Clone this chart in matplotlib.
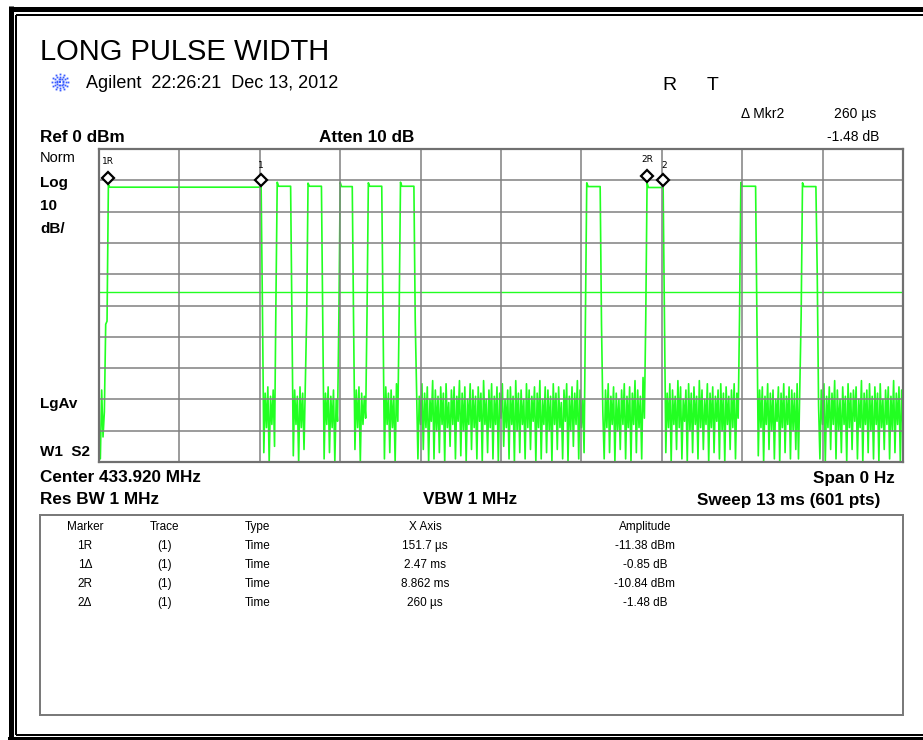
import numpy as np
import matplotlib
matplotlib.use("Agg")
import matplotlib.pyplot as plt
from matplotlib import font_manager
from matplotlib.transforms import offset_copy, blended_transform_factory

# ---------------- data ----------------
sweep_ms = 13.0
n_points = 601
display_line_db = -45.8

# pulses (sample indices of first / last high sample)
pulse_first = [7, 133, 156, 180, 201, 225, 364, 409, 479, 525]
pulse_last = [121, 143, 166, 189, 211, 235, 374, 421, 490, 535]
pulse_peak_db = [-11.38, -10.6, -10.9, -10.7, -10.8, -10.6, -10.8, -10.84, -10.7, -10.8]
pulse_flat_db = [-12.2, -11.9, -11.9, -12.0, -11.9, -11.9, -12.0, -12.3, -11.9, -12.0]
rise_db = [-55, -50, -53, -54, -53, -52, -53, -55, -54, -53]
fall_db = [-52, -55, -55, -56, -54, -55, -56, -54, -56, -40]

# noise samples between pulses (in order)
noise_pre = [-88, -99, -77, -92, -84, -56]
noise_g1 = [-97, -78, -89, -76, -100, -79, -88, -77, -95]
noise_g2 = [-98, -77, -88, -79, -100, -76, -89, -78, -96, -75]
noise_g3 = [-99, -78, -88, -76, -97, -79, -89, -77, -100, -80, -87]
noise_g4 = [-96, -77, -89, -76, -100, -78, -88, -79, -86]
noise_g5 = [-99, -76, -88, -78, -97, -77, -89, -79, -100, -75, -87]
noise_g6 = [-77, -99, -79, -88, -75, -96, -78, -89, -76, -100,
            -80, -87, -74, -99, -77, -90, -79, -97, -76, -88,
            -78, -100, -75, -89, -81, -95, -77, -88, -76, -99,
            -79, -87, -74, -98, -78, -90, -76, -100, -80, -88,
            -75, -96, -77, -89, -79, -99, -76, -87, -78, -100,
            -74, -88, -80, -97, -77, -89, -75, -99, -79, -88,
            -76, -100, -78, -86, -75, -95, -80, -89, -77, -99,
            -76, -88, -79, -100, -74, -90, -78, -97, -77, -88,
            -80, -99, -75, -89, -77, -96, -79, -87, -76, -100,
            -78, -89, -74, -99, -80, -88, -76, -97, -77, -90,
            -79, -100, -75, -88, -78, -96, -76, -89, -81, -99,
            -77, -87, -75, -100, -79, -90, -76, -95, -78, -88,
            -74, -99, -77, -89, -80, -97]
noise_g7 = [-84, -99, -77, -89, -75, -97, -79, -88, -76, -100,
            -78, -90, -80, -96, -77, -88, -75, -99, -79, -89,
            -76, -100, -78, -88, -74, -97, -77, -89, -79, -99,
            -73, -86]
noise_g8 = [-97, -78, -89, -75, -100, -77, -88, -79, -96, -74,
            -89, -76, -99, -80, -87, -77, -100, -75, -90, -78,
            -97, -76, -88, -79, -99, -74, -89, -77, -96, -80,
            -88, -75, -100, -78, -89, -76, -97, -79, -87, -77,
            -99, -75, -90, -78, -100, -76, -88, -79, -96, -77,
            -89, -75, -99, -78, -86]
noise_g9 = [-98, -77, -89, -76, -100, -79, -88, -75, -96, -78,
            -90, -77, -99, -80, -87, -76, -100, -78, -89, -75,
            -97, -79, -88, -76, -99, -77, -90, -78, -96, -75,
            -99, -76]
noise_g10 = [-82, -99, -77, -88, -75, -100, -79, -89, -76, -96,
             -78, -88, -74, -99, -77, -90, -80, -97, -76, -88,
             -79, -100, -75, -89, -78, -96, -77, -87, -76, -99,
             -80, -89, -74, -100, -78, -88, -77, -97, -75, -90,
             -79, -99, -76, -88, -78, -100, -75, -89, -80, -96,
             -77, -88, -76, -99, -79, -90, -74, -97, -78, -88,
             -76, -100, -77, -89]

marker_names = ["1R", "1", "2R", "2"]
marker_time_ms = [0.1517, 0.1517 + 2.47, 8.862, 8.862 + 0.26]

table_header = ["Marker", "Trace", "Type", "X Axis", "Amplitude"]
table_marker = ["1R", "1\u0394", "2R", "2\u0394"]
table_trace = ["(1)", "(1)", "(1)", "(1)"]
table_type = ["Time", "Time", "Time", "Time"]
table_x = ["151.7 \u00b5s", "2.47 ms", "8.862 ms", "260 \u00b5s"]
table_amp = ["-11.38 dBm", "-0.85 dB", "-10.84 dBm", "-1.48 dB"]

# ---------------- build trace ----------------
noise_all = (noise_pre + noise_g1 + noise_g2 + noise_g3 + noise_g4 + noise_g5 +
             noise_g6 + noise_g7 + noise_g8 + noise_g9 + noise_g10)
special = {}
for k, (a, b) in enumerate(zip(pulse_first, pulse_last)):
    special[a - 1] = rise_db[k]
    special[a] = pulse_peak_db[k]
    for i in range(a + 1, b + 1):
        special[i] = pulse_flat_db[k]
    special[b + 1] = fall_db[k]
it = iter(noise_all)
trace = np.array([special[i] if i in special else next(it) for i in range(n_points)], float)
t_ms = np.linspace(0, sweep_ms, n_points)
dt = sweep_ms / (n_points - 1)

# ---------------- fonts ----------------
names = {f.name for f in font_manager.fontManager.ttflist}
SANS = "Liberation Sans" if "Liberation Sans" in names else "DejaVu Sans"
NARROW = "Liberation Sans Narrow" if "Liberation Sans Narrow" in names else SANS

W, H = 923, 740
fig = plt.figure(figsize=(W / 100, H / 100), dpi=100)
fig.patch.set_facecolor("white")
bg = fig.add_axes([0, 0, 1, 1])
bg.set_xlim(0, W)
bg.set_ylim(H, 0)
bg.axis("off")

PX = 0.72  # points per pixel

# outer frame (double line)
bg.plot([10.5, W], [8.5, 8.5], color="black", lw=5 * PX, solid_capstyle="butt")
bg.plot([10.5, 10.5], [6, H], color="black", lw=5 * PX, solid_capstyle="butt")
bg.plot([16, W], [14.5, 14.5], color="black", lw=2 * PX, solid_capstyle="butt")
bg.plot([16, 16], [14.5, 735], color="black", lw=2 * PX, solid_capstyle="butt")
bg.plot([16, W], [735, 735], color="black", lw=2 * PX, solid_capstyle="butt")
bg.plot([8, W], [738.5, 738.5], color="black", lw=4 * PX, solid_capstyle="butt")

# title & header
bg.text(40, 52, "LONG PULSE WIDTH", fontsize=21, family=SANS, va="center", ha="left")
# Agilent logo (starburst)
cx, cy = 60, 82
for ang in np.arange(0, 360, 30):
    for r in (3.0, 5.5, 8.0):
        bg.plot(cx + r * np.cos(np.radians(ang)), cy + r * np.sin(np.radians(ang)),
                marker="s", ms=1.3, color="#3a5cff", mew=0)
bg.plot(cx, cy, marker="s", ms=1.6, color="#3a5cff", mew=0)
bg.text(86, 83, "Agilent  22:26:21  Dec 13, 2012", fontsize=13, family=SANS,
        va="center", ha="left")

bg.text(669, 85, "R", fontsize=14, family=SANS, va="center", ha="center")
bg.text(712.5, 85, "T", fontsize=14, family=SANS, va="center", ha="center")
bg.text(741, 114, "\u0394 Mkr2", fontsize=10, family=SANS, va="center", ha="left")
bg.text(876, 114, "260 \u00b5s", fontsize=10, family=SANS, va="center", ha="right")
bg.text(879, 137, "-1.48 dB", fontsize=10, family=SANS, va="center", ha="right")

BF = 12.3
bg.text(40, 137, "Ref 0 dBm", fontsize=BF, weight="bold", family=NARROW, va="center", ha="left")
bg.text(367, 137, "Atten 10 dB", fontsize=BF, weight="bold", family=NARROW, va="center", ha="center")

bg.text(40, 158, "Norm", fontsize=10.5, family=SANS, va="center", ha="left")
for lab, yy in [("Log", 183), ("10", 206), ("dB/", 229), ("LgAv", 404), ("W1  S2", 452)]:
    bg.text(40, yy, lab, fontsize=11, weight="bold", family=NARROW, va="center", ha="left")

bg.text(40, 478, "Center 433.920 MHz", fontsize=BF, weight="bold", family=NARROW, va="center", ha="left")
bg.text(895, 478, "Span 0 Hz", fontsize=BF, weight="bold", family=NARROW, va="center", ha="right")
bg.text(40, 500, "Res BW 1 MHz", fontsize=BF, weight="bold", family=NARROW, va="center", ha="left")
bg.text(470, 500, "VBW 1 MHz", fontsize=BF, weight="bold", family=NARROW, va="center", ha="center")
bg.text(880, 500, "Sweep 13 ms (601 pts)", fontsize=BF, weight="bold", family=NARROW, va="center", ha="right")

# marker table
bg.add_patch(plt.Rectangle((40, 515), 863, 200, fill=False, edgecolor="#7a7a7a", lw=2 * PX))
col_x = [85, 165, 245, 425, 645]
col_ha = ["center", "center", "left", "center", "center"]
TF = 8.5
for j, h in enumerate(table_header):
    bg.text(col_x[j], 527, h, fontsize=TF, family=SANS, va="center", ha=col_ha[j])
for r in range(len(table_marker)):
    yy = 546 + 19 * r
    row = [table_marker[r], table_trace[r], table_type[r], table_x[r], table_amp[r]]
    for j, v in enumerate(row):
        bg.text(col_x[j], yy, v, fontsize=TF, family=SANS, va="center", ha=col_ha[j])

# ---------------- trace axes ----------------
L, R, T, B = 99, 903, 149, 462
ax = fig.add_axes([L / W, 1 - B / H, (R - L) / W, (B - T) / H])
ax.set_xlim(0, sweep_ms)
ax.set_ylim(-100, 0)
ax.set_facecolor("white")
GREEN = "#22ff22"
ax.plot(t_ms, trace, color=GREEN, lw=1.2, zorder=2)
ax.axhline(display_line_db, color=GREEN, lw=1.0, zorder=2)
ax.set_xticks(np.linspace(0, sweep_ms, 11))
ax.set_yticks(np.arange(-100, 1, 10))
ax.tick_params(length=0, labelbottom=False, labelleft=False)
ax.grid(True, color="#808080", lw=1.3, alpha=0.85, zorder=3)
ax.set_axisbelow(False)
for s in ax.spines.values():
    s.set_color("#707070")
    s.set_linewidth(2.2 * PX)
    s.set_zorder(4)

# markers
mk_idx = [int(round(tm / dt)) for tm in marker_time_ms]
up = offset_copy(ax.transData, fig=fig, x=0, y=7, units="dots")
for k, idx in enumerate(mk_idx):
    ax.plot(t_ms[idx], trace[idx], marker="D", ms=6.5, mfc="white", mec="black",
            mew=1.6, transform=up, zorder=2.6, clip_on=False)
blend = blended_transform_factory(ax.transData, bg.transData)
label_y = [161, 165, 160, 165]
label_dx = [0, 0, 0, 1]
for k, idx in enumerate(mk_idx):
    tr = offset_copy(blend, fig=fig, x=label_dx[k], y=0, units="dots")
    ax.text(t_ms[idx], label_y[k], marker_names[k], transform=tr, fontsize=6.5,
            family="DejaVu Sans", va="center", ha="center", zorder=5, clip_on=False)

fig.savefig("out.png", dpi=100, facecolor="white")
